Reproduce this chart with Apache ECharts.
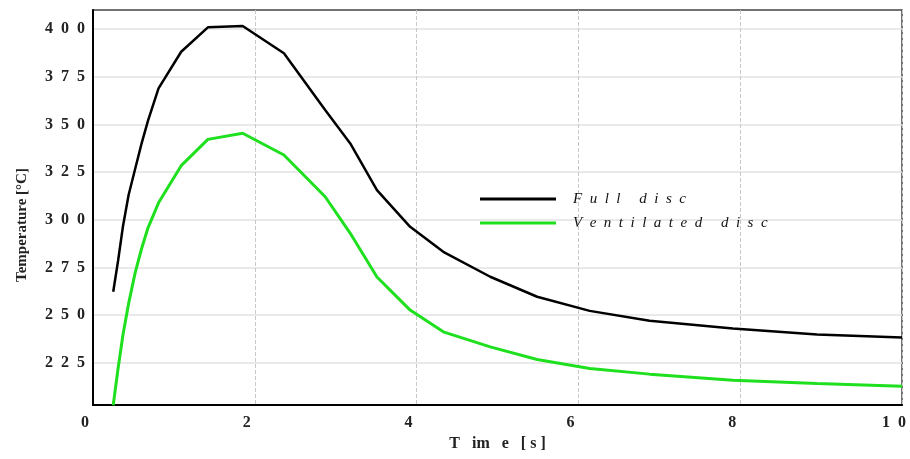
<!DOCTYPE html>
<html>
<head>
<meta charset="utf-8">
<script src="https://cdn.jsdelivr.net/npm/echarts@6/dist/echarts.min.js"></script>
<style>
    html, body { margin: 0; padding: 0; background: #fff; }
    #chart { width: 910px; height: 459px; }
</style>
</head>
<body>
<div id="chart"></div>
<script>
// time [s]
const times = [0.25, 0.31, 0.37, 0.44, 0.52, 0.60, 0.68, 0.81, 1.09, 1.42, 1.85, 2.36, 2.87, 3.18, 3.51, 3.92, 4.33, 4.91, 5.49, 6.14, 6.88, 7.91, 8.95, 10.0];
// temperature [°C]
const fullDisc = [262.2, 278.5, 296.5, 313.0, 326.5, 340.0, 352.0, 369.0, 388.2, 401.0, 401.7, 387.4, 357.6, 340.1, 315.6, 296.3, 283.2, 270.1, 259.6, 252.2, 247.0, 243.0, 239.8, 238.2];
const ventDisc = [202.7, 222.0, 239.5, 256.0, 272.0, 284.8, 295.8, 308.9, 328.4, 342.2, 345.4, 334.0, 312.1, 292.9, 270.0, 252.6, 241.2, 233.3, 226.7, 222.0, 219.0, 215.8, 214.1, 212.6];
const yTicks = [225, 250, 275, 300, 325, 350, 375, 400];
const seriesNames = ['Full disc', 'Ventilated disc'];

const chart = echarts.init(document.getElementById('chart'));

const spaced = v => String(v).split('').join('  ');
const serif = "'Liberation Serif', 'DejaVu Serif', serif";

chart.setOption({
    animation: false,
    grid: {
        left: 93,
        right: 8,
        top: 10,
        bottom: 54,
        show: true,
        borderColor: '#444',
        borderWidth: 1.5
    },
    legend: {
        orient: 'vertical',
        left: 480,
        top: 191,
        padding: 0,
        itemGap: 8,
        itemWidth: 76,
        itemHeight: 3,
        icon: 'rect',
        data: seriesNames,
        formatter: name => name.split(' ').map(w => w.split('').join('  ')).join('     '),
        textStyle: {
            fontFamily: serif,
            fontStyle: 'italic',
            fontSize: 15,
            lineHeight: 16,
            color: '#111',
            padding: [0, 0, 0, 12]
        }
    },
    xAxis: {
        type: 'value',
        min: 0,
        max: 10,
        interval: 2,
        name: 'T   im   e   [ s ]',
        nameLocation: 'middle',
        nameGap: 27,
        nameTextStyle: {
            fontFamily: serif,
            fontWeight: 'bold',
            fontSize: 16,
            color: '#222'
        },
        axisLine: { lineStyle: { color: '#000', width: 2 } },
        axisTick: { show: false },
        axisLabel: {
            margin: 10,
            padding: [0, 16, 0, 0],
            fontFamily: serif,
            fontWeight: 'bold',
            fontSize: 16,
            color: '#222',
            formatter: spaced
        },
        splitLine: {
            show: true,
            lineStyle: { color: '#c8c8c8', type: 'dashed', width: 1 }
        }
    },
    yAxis: {
        type: 'value',
        min: 202.8,
        max: 410.1,
        name: 'Temperature [°C]',
        nameLocation: 'middle',
        nameGap: 63,
        nameTextStyle: {
            fontFamily: serif,
            fontWeight: 'bold',
            fontSize: 15,
            color: '#222',
            padding: [0, 35, 0, 0]
        },
        axisLine: { show: true, lineStyle: { color: '#000', width: 2 } },
        axisTick: { show: false, customValues: yTicks },
        axisLabel: {
            customValues: yTicks,
            margin: 8,
            fontFamily: serif,
            fontWeight: 'bold',
            fontSize: 16,
            color: '#222',
            formatter: spaced
        },
        splitLine: {
            show: true,
            lineStyle: { color: '#e2e2e2', width: 1.5 }
        }
    },
    series: [
        {
            name: seriesNames[0],
            type: 'line',
            data: times.map((t, i) => [t, fullDisc[i]]),
            showSymbol: false,
            color: '#000',
            lineStyle: { color: '#000', width: 2.5 }
        },
        {
            name: seriesNames[1],
            type: 'line',
            data: times.map((t, i) => [t, ventDisc[i]]),
            showSymbol: false,
            color: '#1fe01f',
            lineStyle: { color: '#1fe01f', width: 3 }
        }
    ]
});
</script>
</body>
</html>
